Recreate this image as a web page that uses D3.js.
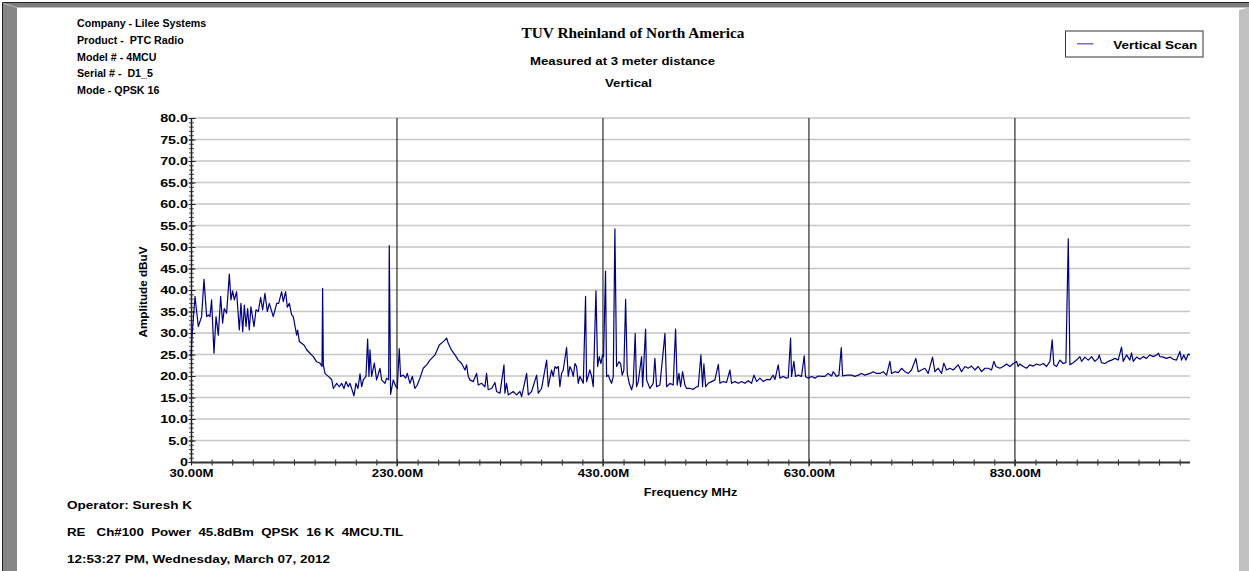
<!DOCTYPE html>
<html><head><meta charset="utf-8">
<script src="https://cdn.jsdelivr.net/npm/d3@7"></script>
<style>html,body{margin:0;padding:0;background:#fff;overflow:hidden}</style>
</head><body>
<svg id="chart" width="1249" height="571"></svg>
<script>
// ---- data: [frequency MHz, amplitude dBuV] ----
const band30to230 = [[30,24.5],[31.2,30],[33.9,38.5],[35.5,35],[37.1,31.5],[40.3,33.8],[42.6,42.5],[45.2,33.8],[46.8,34.2],[48.4,33.8],[50.0,37.7],[52.3,25.3],[54.3,33.8],[56.5,29.5],[58.8,38.5],[60.7,32.3],[62.3,35.7],[64.6,34.6],[67.2,43.7],[68.8,37.7],[70.4,39.8],[72.1,37.7],[74.3,39.6],[76.9,30.7],[78.5,36.9],[80.2,30.3],[81.8,36.5],[83.4,31.5],[85.0,35.7],[86.6,30.7],[88.2,36.1],[91.2,31.5],[93.1,35.4],[95.4,35.0],[97.6,38.3],[99.6,35.4],[101.8,39.2],[104.1,35.0],[106.0,36.9],[109.9,33.8],[113.2,36.9],[115.1,36.9],[118.0,39.6],[119.6,37.3],[121.9,39.6],[123.5,36.0],[125.5,36.9],[127.7,34.2],[129.3,33.8],[132.6,29.5],[133.5,30.7],[135.2,28.0],[137.4,27.6],[139.7,27.2],[142.3,26.1],[145.5,25.3],[148.8,24.5],[152.0,23.3],[155.2,23.0],[157.2,22.2],[157.8,40.4],[158.5,22.6],[160.1,20.6],[163.3,19.9],[166.6,19.2],[168.2,17.1],[171.4,18.3],[174.0,17.5],[176.3,18.3],[178.5,17.1],[180.5,18.7],[182.7,17.5],[184.4,18.3],[186.0,17.1],[188.2,15.4],[190.2,18.3],[192.1,17.1],[194.1,20.5],[195.7,17.5],[197.3,19.1],[199.9,19.9],[201.5,28.6],[202.8,19.9],[203.8,26.1],[205.4,19.9],[208.0,23.0],[210.2,19.1],[213.5,21.8],[215.1,19.1],[218.3,18.3],[220.0,19.5],[221.9,19.1],[222.5,50.3],[223.8,15.7],[226.4,19.1],[229.0,17.5]];
const band230to430 = [[230.3,17.1],[232.2,26.4],[233.5,19.9],[236.1,20.2],[238.4,19.5],[240.0,20.6],[242.6,18.3],[244.9,19.9],[247.4,17.1],[249.7,17.9],[252.3,19.5],[255.5,21.8],[258.8,22.6],[262.0,23.7],[266.9,24.9],[271.1,27.2],[275.0,28.0],[278.2,28.8],[279.8,27.6],[283.0,26.0],[286.3,24.9],[289.5,23.7],[292.8,22.9],[296.0,21.4],[297.6,22.6],[299.2,19.9],[300.8,19.1],[304.1,18.7],[307.3,20.6],[308.9,17.9],[312.2,18.3],[315.4,17.5],[317.0,20.6],[318.6,16.8],[321.9,17.1],[325.1,18.5],[326.7,16.4],[330.0,16.0],[333.9,22.6],[334.8,16.0],[336.4,18.3],[338.1,15.6],[342.9,16.4],[346.1,15.6],[349.4,16.4],[351.0,15.2],[355.9,20.6],[357.5,15.6],[360.7,16.4],[365.6,20.2],[367.2,16.0],[370.4,17.1],[375.3,23.7],[376.9,17.5],[380.1,21.4],[381.7,19.9],[383.4,22.2],[385.0,21.8],[386.6,22.2],[388.2,17.5],[389.8,20.6],[391.4,21.4],[394.7,26.6],[396.3,19.9],[397.9,22.2],[399.5,21.4],[401.2,19.9],[402.8,22.9],[404.4,22.2],[406.0,18.3],[407.6,19.9],[409.3,19.1],[410.9,18.3],[413.1,38.5],[414.1,18.7],[417.3,21.4],[419.0,19.9],[420.6,17.5],[423.2,39.8],[424.8,22.2],[426.4,24.5],[428.0,22.9],[429.6,24.9]];
const band430to630 = [[430.6,24.5],[432.5,44.4],[433.5,19.9],[435.1,20.2],[436.8,19.1],[438.4,18.3],[440.0,19.9],[441.6,54.2],[443.2,22.2],[445.5,23.3],[447.1,22.9],[448.7,20.2],[450.3,21.4],[452.0,37.8],[453.6,20.6],[455.5,18.3],[457.8,16.8],[459.4,18.3],[461.3,29.9],[462.6,17.5],[464.3,18.7],[467.5,24.5],[468.5,17.5],[471.4,30.9],[472.4,19.1],[475.6,17.1],[478.8,18.3],[480.4,24.1],[482.1,17.5],[485.3,17.9],[490.2,29.9],[491.8,17.5],[495.0,18.3],[498.2,17.9],[500.5,30.9],[502.1,17.9],[503.8,20.6],[505.4,17.5],[507.3,21.0],[509.6,17.9],[511.2,17.1],[514.4,17.1],[517.7,16.9],[520.9,17.5],[522.5,17.5],[525.1,24.9],[526.7,17.5],[528.0,22.8],[529.7,17.5],[532.2,18.3],[535.5,18.7],[538.7,19.1],[542.0,22.7],[543.6,18.3],[546.8,18.7],[550.0,18.5],[553.3,21.4],[554.9,18.3],[558.1,18.7],[561.4,18.3],[564.6,18.7],[567.8,18.3],[571.1,18.9],[574.3,18.3],[576.6,20.2],[579.2,18.7],[582.4,19.5],[585.6,18.7],[588.9,19.2],[592.1,19.1],[595.3,20.2],[597.0,19.2],[600.2,22.6],[601.8,19.5],[605.0,19.9],[608.3,19.5],[609.9,19.6],[612.2,28.8],[613.1,19.9],[615.4,23.4],[617.0,19.9],[619.6,20.2],[622.8,19.9],[625.4,24.7],[626.7,19.9],[629.3,19.5]];
const band630to830 = [[632.6,19.9],[635.8,19.5],[639.0,20.0],[642.3,19.9],[645.5,19.9],[648.7,20.6],[652.0,20.0],[653.6,21.0],[656.8,19.9],[659.1,20.2],[661.4,26.6],[662.7,20.0],[666.5,20.2],[671.4,20.2],[674.6,19.9],[677.9,20.2],[681.1,20.6],[684.3,20.2],[689.2,20.6],[692.4,21.0],[695.7,20.6],[698.9,20.6],[702.1,21.0],[705.4,20.2],[708.6,23.4],[710.2,20.6],[713.5,21.0],[716.7,20.8],[719.9,21.8],[723.2,21.0],[726.4,20.6],[729.6,21.4],[733.8,24.1],[736.1,21.0],[739.3,21.4],[742.6,21.8],[745.8,20.6],[750.0,24.4],[752.3,21.0],[755.5,21.8],[758.8,20.6],[761.0,23.0],[763.6,21.4],[766.8,21.8],[770.1,21.4],[774.9,22.6],[778.2,21.0],[781.4,22.2],[784.6,21.8],[787.9,22.3],[791.1,21.4],[794.4,22.2],[797.6,21.0],[800.8,21.8],[804.1,21.8],[807.3,21.4],[809.6,23.4],[811.5,22.2],[815.4,21.8],[818.7,22.2],[821.9,22.8],[825.1,22.2],[828.4,22.9]];
const band830to1000 = [[831.6,23.4],[833.2,22.2],[834.8,22.8],[838.1,22.2],[841.3,21.8],[844.5,22.6],[847.8,22.3],[851.0,22.8],[854.2,22.5],[857.5,22.9],[860.7,22.2],[864.0,23.4],[866.2,28.4],[867.8,22.6],[870.4,22.2],[873.7,23.7],[876.9,22.9],[879.5,23.1],[881.8,51.9],[883.4,22.6],[886.6,23.1],[889.8,23.7],[893.1,24.5],[894.7,23.4],[897.9,24.4],[901.2,23.7],[904.4,24.5],[907.6,23.4],[910.9,24.1],[911.8,24.9],[914.1,23.1],[917.4,22.9],[920.6,23.4],[923.8,23.7],[927.1,24.1],[930.3,23.7],[933.5,26.7],[935.1,23.4],[938.4,24.9],[941.6,23.7],[943.2,25.4],[944.9,23.4],[948.1,24.4],[951.3,23.9],[954.6,24.5],[957.8,24.1],[961.0,24.9],[964.3,24.5],[967.5,24.9],[969.5,25.3],[970.7,24.5],[974.0,24.4],[977.2,24.1],[980.5,24.4],[983.7,23.9],[986.9,23.7],[990.2,25.7],[991.8,23.7],[994.0,24.9],[996.0,23.7],[998.3,25.1],[1000,24.9]];

const yMajorTicks = [0,5,10,15,20,25,30,35,40,45,50,55,60,65,70,75,80];
const xLabelTicks = [30,230,430,630,830];
const xDomain = [30,1000];
const yDomain = [0,80];
const headerLines = ["Company - Lilee Systems","Product -  PTC Radio","Model # - 4MCU","Serial # -  D1_5","Mode - QPSK 16"];
const titleLines = ["TUV Rheinland of North America","Measured at 3 meter distance","Vertical"];
const footerLines = ["Operator: Suresh K","RE   Ch#100  Power  45.8dBm  QPSK  16 K  4MCU.TIL","12:53:27 PM, Wednesday, March 07, 2012"];
const seriesName = "Vertical Scan";
const xAxisTitle = "Frequency MHz";
const yAxisTitle = "Amplitude dBuV";

// ---- drawing ----
const SANS = "'Liberation Sans', Arial, sans-serif";
const SERIF = "'Liberation Serif', 'Times New Roman', serif";
const svg = d3.select("#chart");
const x = d3.scaleLinear().domain(xDomain).range([191, 1190]);
const y = d3.scaleLinear().domain(yDomain).range([462, 118]);

function stretch(sel, k){ sel.each(function(){ const n=this.getComputedTextLength(); d3.select(this).attr("textLength", n*k).attr("lengthAdjust","spacingAndGlyphs"); }); }
function fit(sel, w){ sel.attr("textLength", w).attr("lengthAdjust","spacingAndGlyphs"); }
function txt(s, tx, ty, size, anchor, family){
  return svg.append("text").attr("x",tx).attr("y",ty).attr("font-family",family||SANS)
    .attr("font-weight","bold").attr("font-size",size).attr("text-anchor",anchor||"start")
    .style("white-space","pre").attr("fill","#000").text(s);
}

// frame
svg.append("rect").attr("width",1249).attr("height",571).attr("fill","#fff");
svg.append("polygon").attr("points","3,3 1249,3 1249,7.5 17,7.5").attr("fill","#7c7c7c");
svg.append("polygon").attr("points","3,3 17,7.5 17,571 3,571").attr("fill","#868686");
svg.append("line").attr("x1",4).attr("y1",3.5).attr("x2",17).attr("y2",7.5).attr("stroke","#b4b4b4").attr("stroke-width",1);
svg.append("line").attr("x1",2.5).attr("y1",2.5).attr("x2",1249).attr("y2",2.5).attr("stroke","#222").attr("stroke-width",1);
svg.append("line").attr("x1",2.5).attr("y1",2.5).attr("x2",2.5).attr("y2",571).attr("stroke","#222").attr("stroke-width",1);
svg.append("polygon").attr("points","1239,10 1249,7.5 1249,571 1239,571").attr("fill","#c0c0c0");

// horizontal grid
svg.append("g").selectAll("line").data(yMajorTicks.filter(v=>v>0)).join("line")
  .attr("x1",x(xDomain[0])).attr("x2",x(xDomain[1])).attr("y1",d=>y(d)).attr("y2",d=>y(d))
  .attr("stroke","#c6c6c6").attr("stroke-width",1.5);
// vertical grid
svg.append("g").selectAll("line").data(xLabelTicks.slice(1)).join("line")
  .attr("x1",d=>x(d)).attr("x2",d=>x(d)).attr("y1",y(80)).attr("y2",y(0)+4.5)
  .attr("stroke","#2a2a2a").attr("stroke-width",1.2);

// y axis minor ticks
const yMinor = svg.append("g").attr("transform","translate(194,0)")
  .call(d3.axisLeft(y).tickValues(d3.range(0,81,1)).tickSize(5).tickFormat(""));
yMinor.select(".domain").remove();
yMinor.selectAll(".tick line").attr("stroke","#222").attr("stroke-width",0.8);
// y axis major ticks + labels
const yMajor = svg.append("g").attr("transform","translate(195.5,0)")
  .call(d3.axisLeft(y).tickValues(yMajorTicks).tickSize(7).tickPadding(0.5).tickFormat(d=>d===0?"0":d3.format(".1f")(d)));
yMajor.select(".domain").remove();
yMajor.selectAll(".tick line").attr("stroke","#222").attr("stroke-width",1);
yMajor.selectAll("text").attr("font-family",SANS).attr("font-weight","bold").attr("font-size",11).attr("fill","#000");
stretch(yMajor.selectAll("text"),1.3);

// x axis minor ticks
const xMinor = svg.append("g").attr("transform","translate(0,459.5)")
  .call(d3.axisBottom(x).tickValues(d3.range(30,1000,20)).tickSize(6).tickFormat(""));
xMinor.select(".domain").remove();
xMinor.selectAll(".tick line").attr("stroke","#222").attr("stroke-width",1);
// x axis labels
const xMajor = svg.append("g").attr("transform","translate(0,462)")
  .call(d3.axisBottom(x).tickValues(xLabelTicks).tickSize(0).tickPadding(7).tickFormat(d=>d3.format(".2f")(d)+"M"));
xMajor.select(".domain").remove();
xMajor.selectAll("text").attr("font-family",SANS).attr("font-weight","bold").attr("font-size",11).attr("fill","#000");
stretch(xMajor.selectAll("text"),1.2);

// axis lines
svg.append("line").attr("x1",x(xDomain[0])).attr("x2",x(xDomain[1])).attr("y1",y(0)+0.5).attr("y2",y(0)+0.5).attr("stroke","#333").attr("stroke-width",1.8);
svg.append("line").attr("x1",x(xDomain[0])+0.5).attr("x2",x(xDomain[0])+0.5).attr("y1",y(80)).attr("y2",y(0)).attr("stroke","#222").attr("stroke-width",1.5);

// trace
const trace = [].concat(band30to230, band230to430, band430to630, band630to830, band830to1000);
svg.append("path").datum(trace)
  .attr("d", d3.line().x(d=>x(d[0])).y(d=>y(d[1])))
  .attr("fill","none").attr("stroke","#000080").attr("stroke-width",1.2).attr("stroke-linejoin","round");

// axis titles
const yt = svg.append("text").attr("transform","translate(146.5,292) rotate(-90)")
  .attr("text-anchor","middle").attr("font-family",SANS).attr("font-weight","bold").attr("font-size",11).text(yAxisTitle);
fit(yt,91);
const xt = txt(xAxisTitle, (x(xDomain[0])+x(xDomain[1]))/2, 496, 11, "middle");
stretch(xt,1.15);

// header
const headerBase = [27.3,44,60.7,77.3,94];
headerLines.forEach((s,i)=>{ stretch(txt(s,77,headerBase[i],11,"start"),0.97); });
// titles
fit(txt(titleLines[0],633,37.7,14,"middle",SERIF),223);
fit(txt(titleLines[1],622.5,65,11,"middle"),185);
fit(txt(titleLines[2],628.5,87,11,"middle"),47);

// footer
const footerBase = [508.5,535.5,563];
const footerW = [125,336,263];
footerLines.forEach((s,i)=>{ fit(txt(s,67,footerBase[i],10.5,"start"),footerW[i]); });

// legend
svg.append("rect").attr("x",1065.5).attr("y",31).attr("width",137.5).attr("height",26)
  .attr("fill","#fff").attr("stroke","#333").attr("stroke-width",1);
svg.append("line").attr("x1",1077).attr("x2",1093.5).attr("y1",43.8).attr("y2",43.8).attr("stroke","#5a5ab8").attr("stroke-width",1.3);
fit(txt(seriesName,1113.3,49,11.5,"start"),84);
</script>
</body></html>
